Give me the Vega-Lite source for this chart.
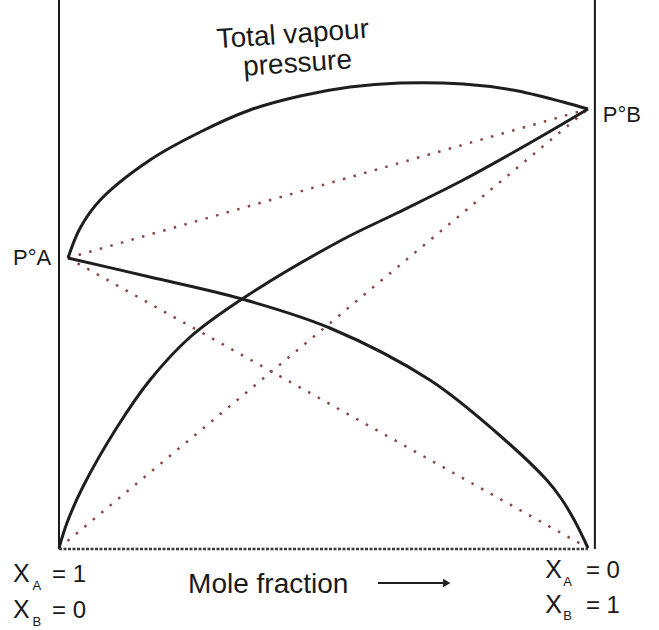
{
  "$schema": "https://vega.github.io/schema/vega-lite/v6.json",
  "width": 529,
  "height": 549,
  "autosize": {"type": "none"},
  "padding": {"left": 59, "top": 0, "right": 71, "bottom": 81},
  "background": "white",
  "config": {"view": {"stroke": null}, "text": {"font": "Liberation Sans", "color": "#1a1a1a"}},
  "datasets": {
    "frame": [{"x": 0, "y": 0, "y2": 549}, {"x": 1.013, "y": 0, "y2": 549}],
    "base": [{"x": 0, "x2": 1, "y": 0}],
    "ideal": [
      {"line": "total", "x": 0.017, "y": 291}, {"line": "total", "x": 1, "y": 440},
      {"line": "pA", "x": 0.017, "y": 291}, {"line": "pA", "x": 1, "y": 1},
      {"line": "pB", "x": 0, "y": 1}, {"line": "pB", "x": 1, "y": 440}
    ],
    "curves": [
      {"line": "total", "x": 0.017, "y": 291}, {"line": "total", "x": 0.04, "y": 321},
      {"line": "total", "x": 0.078, "y": 349}, {"line": "total", "x": 0.172, "y": 389},
      {"line": "total", "x": 0.267, "y": 417}, {"line": "total", "x": 0.361, "y": 439}, {"line": "total", "x": 0.456, "y": 453},
      {"line": "total", "x": 0.55, "y": 462}, {"line": "total", "x": 0.645, "y": 466}, {"line": "total", "x": 0.764, "y": 465},
      {"line": "total", "x": 0.858, "y": 459}, {"line": "total", "x": 0.953, "y": 447}, {"line": "total", "x": 1.0, "y": 440},
      {"line": "pA", "x": 0.017, "y": 291}, {"line": "pA", "x": 0.172, "y": 272}, {"line": "pA", "x": 0.346, "y": 250},
      {"line": "pA", "x": 0.512, "y": 221}, {"line": "pA", "x": 0.701, "y": 169}, {"line": "pA", "x": 0.828, "y": 116},
      {"line": "pA", "x": 0.922, "y": 69}, {"line": "pA", "x": 0.95, "y": 50}, {"line": "pA", "x": 0.975, "y": 28},
      {"line": "pA", "x": 1.0, "y": 1},
      {"line": "pB", "x": 0, "y": 1}, {"line": "pB", "x": 0.015, "y": 26}, {"line": "pB", "x": 0.045, "y": 62},
      {"line": "pB", "x": 0.11, "y": 122}, {"line": "pB", "x": 0.172, "y": 169}, {"line": "pB", "x": 0.248, "y": 212},
      {"line": "pB", "x": 0.346, "y": 250}, {"line": "pB", "x": 0.531, "y": 308}, {"line": "pB", "x": 0.639, "y": 336},
      {"line": "pB", "x": 0.764, "y": 369}, {"line": "pB", "x": 0.89, "y": 406}, {"line": "pB", "x": 1.0, "y": 440}
    ],
    "title1": [{"t": "Total vapour", "x": 0.443, "y": 506}],
    "title2": [{"t": "pressure", "x": 0.452, "y": 477}],
    "plabels": [{"t": "P°A", "x": -0.087, "y": 284}, {"t": "P°B", "x": 1.028, "y": 427}],
    "xmain": [
      {"t": "X", "x": -0.087, "y": -33}, {"t": "X", "x": -0.087, "y": -69},
      {"t": "X", "x": 0.919, "y": -29}, {"t": "X", "x": 0.919, "y": -64}
    ],
    "xsub": [
      {"t": "A", "x": -0.05, "y": -41}, {"t": "B", "x": -0.05, "y": -77},
      {"t": "A", "x": 0.953, "y": -37}, {"t": "B", "x": 0.953, "y": -71}
    ],
    "xval": [
      {"t": "=  1", "x": -0.013, "y": -33}, {"t": "=  0", "x": -0.013, "y": -69},
      {"t": "=  0", "x": 0.996, "y": -29}, {"t": "=  1", "x": 0.996, "y": -64}
    ],
    "mole": [{"t": "Mole fraction", "x": 0.244, "y": -44}],
    "arrow": [{"x": 0.603, "y": -34}, {"x": 0.726, "y": -34}],
    "arrowhead": [{"x": 0.733, "y": -34}]
  },
  "layer": [
    {
      "data": {"name": "frame"},
      "mark": {"type": "rule", "color": "#1a1a1a", "strokeWidth": 2},
      "encoding": {
        "x": {"field": "x", "type": "quantitative", "scale": {"domain": [0, 1], "nice": false, "zero": false}, "axis": null},
        "y": {"field": "y", "type": "quantitative", "scale": {"domain": [0, 549], "nice": false, "zero": false}, "axis": null},
        "y2": {"field": "y2"}
      }
    },
    {
      "data": {"name": "base"},
      "mark": {"type": "rule", "color": "#3a3a3a", "strokeWidth": 2.5, "strokeDash": [3, 1.5]},
      "encoding": {
        "x": {"field": "x", "type": "quantitative"},
        "x2": {"field": "x2"},
        "y": {"field": "y", "type": "quantitative"}
      }
    },
    {
      "data": {"name": "ideal"},
      "mark": {"type": "line", "color": "#8a4646", "strokeWidth": 2.5, "strokeDash": [2.5, 8.5]},
      "encoding": {
        "x": {"field": "x", "type": "quantitative"},
        "y": {"field": "y", "type": "quantitative"},
        "detail": {"field": "line"}
      }
    },
    {
      "data": {"name": "curves"},
      "mark": {"type": "line", "color": "#1e1e1e", "strokeWidth": 3, "interpolate": "catmull-rom"},
      "encoding": {
        "x": {"field": "x", "type": "quantitative"},
        "y": {"field": "y", "type": "quantitative"},
        "detail": {"field": "line"}
      }
    },
    {
      "data": {"name": "title1"},
      "mark": {"type": "text", "fontSize": 28, "angle": -4, "align": "center", "baseline": "alphabetic"},
      "encoding": {
        "x": {"field": "x", "type": "quantitative"},
        "y": {"field": "y", "type": "quantitative"},
        "text": {"field": "t"}
      }
    },
    {
      "data": {"name": "title2"},
      "mark": {"type": "text", "fontSize": 28, "angle": -4, "align": "center", "baseline": "alphabetic"},
      "encoding": {
        "x": {"field": "x", "type": "quantitative"},
        "y": {"field": "y", "type": "quantitative"},
        "text": {"field": "t"}
      }
    },
    {
      "data": {"name": "plabels"},
      "mark": {"type": "text", "fontSize": 22, "align": "left", "baseline": "alphabetic"},
      "encoding": {
        "x": {"field": "x", "type": "quantitative"},
        "y": {"field": "y", "type": "quantitative"},
        "text": {"field": "t"}
      }
    },
    {
      "data": {"name": "xmain"},
      "mark": {"type": "text", "fontSize": 25, "align": "left", "baseline": "alphabetic"},
      "encoding": {
        "x": {"field": "x", "type": "quantitative"},
        "y": {"field": "y", "type": "quantitative"},
        "text": {"field": "t"}
      }
    },
    {
      "data": {"name": "xsub"},
      "mark": {"type": "text", "fontSize": 13, "align": "left", "baseline": "alphabetic"},
      "encoding": {
        "x": {"field": "x", "type": "quantitative"},
        "y": {"field": "y", "type": "quantitative"},
        "text": {"field": "t"}
      }
    },
    {
      "data": {"name": "xval"},
      "mark": {"type": "text", "fontSize": 24, "align": "left", "baseline": "alphabetic"},
      "encoding": {
        "x": {"field": "x", "type": "quantitative"},
        "y": {"field": "y", "type": "quantitative"},
        "text": {"field": "t"}
      }
    },
    {
      "data": {"name": "mole"},
      "mark": {"type": "text", "fontSize": 28, "align": "left", "baseline": "alphabetic"},
      "encoding": {
        "x": {"field": "x", "type": "quantitative"},
        "y": {"field": "y", "type": "quantitative"},
        "text": {"field": "t"}
      }
    },
    {
      "data": {"name": "arrow"},
      "mark": {"type": "line", "color": "#1e1e1e", "strokeWidth": 2},
      "encoding": {
        "x": {"field": "x", "type": "quantitative"},
        "y": {"field": "y", "type": "quantitative"}
      }
    },
    {
      "data": {"name": "arrowhead"},
      "mark": {"type": "point", "shape": "triangle-right", "filled": true, "color": "#1e1e1e", "size": 70, "opacity": 1},
      "encoding": {
        "x": {"field": "x", "type": "quantitative"},
        "y": {"field": "y", "type": "quantitative"}
      }
    }
  ]
}
